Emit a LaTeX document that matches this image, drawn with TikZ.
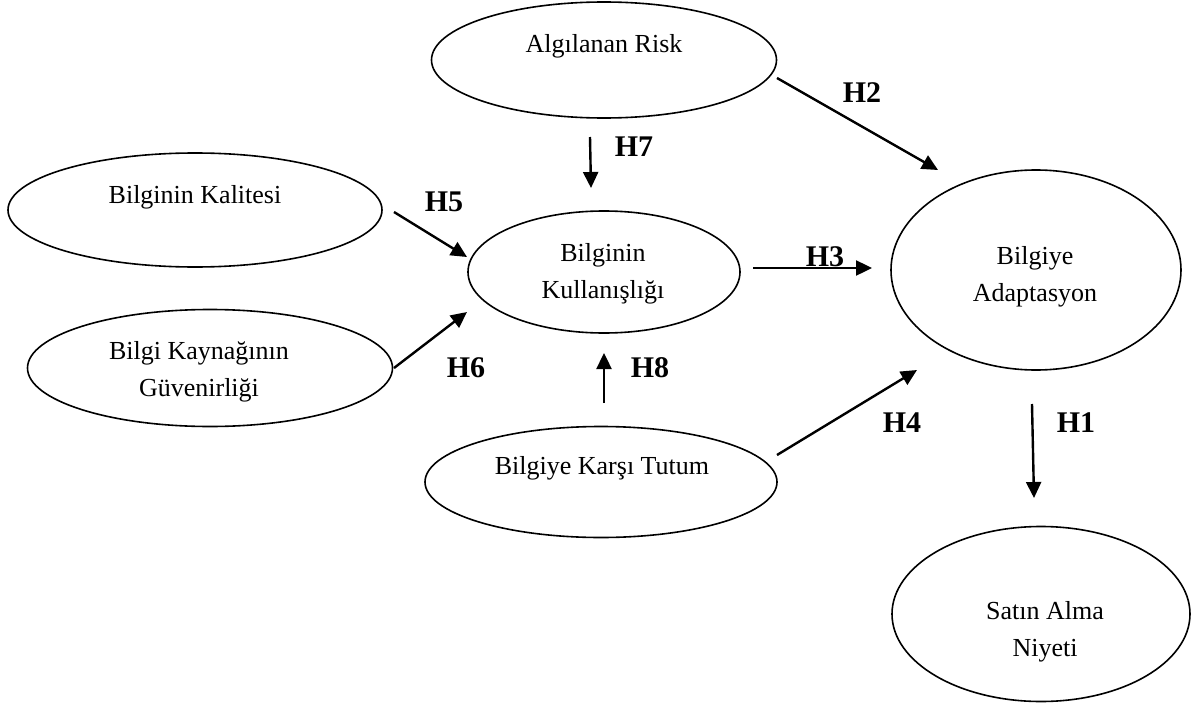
\documentclass[tikz,border=0pt]{standalone}
\usepackage{fontspec}
\setmainfont{Liberation Serif}
\usetikzlibrary{arrows.meta,shapes.geometric}

\begin{document}
\begin{tikzpicture}[x=1pt,y=-1pt,
  yapi/.style={draw,ellipse,line width=1.6pt,inner sep=0pt},
  metin/.style={font=\fontsize{26}{37}\selectfont,align=center},
  hip/.style={font=\fontsize{30}{34}\selectfont\bfseries},
  yol/.style={line width=2.4pt,-{Triangle[length=16pt,width=15pt]}}]
  \useasboundingbox (0,0) rectangle (1197,709);
  % yapilar
  \node[yapi,minimum width=345pt,minimum height=116pt] (risk) at (604,60) {};
  \node[yapi,minimum width=374pt,minimum height=114pt] (kalite) at (195,210) {};
  \node[yapi,minimum width=365pt,minimum height=117pt] (kaynak) at (210,368) {};
  \node[yapi,minimum width=272pt,minimum height=122pt] (kullan) at (604,272) {};
  \node[yapi,minimum width=352pt,minimum height=111pt] (tutum) at (601,482) {};
  \node[yapi,minimum width=290pt,minimum height=200pt] (adapt) at (1036,270) {};
  \node[yapi,minimum width=298pt,minimum height=175pt] (satin) at (1041,614) {};
  % metinler
  \node[metin] (risk-t) at (604,46) {Algılanan Risk};
  \node[metin] (kalite-t) at (195,197) {Bilginin Kalitesi};
  \node[metin] (kaynak-t) at (199,372) {Bilgi Kaynağının\\Güvenirliği};
  \node[metin] (kullan-t) at (603,274) {Bilginin\\Kullanışlığı};
  \node[metin] (tutum-t) at (602,468) {Bilgiye Karşı Tutum};
  \node[metin] (adapt-t) at (1035,277) {Bilgiye\\Adaptasyon};
  \node[metin] (satin-t) at (1045,632) {Satın Alma\\Niyeti};
  % okların uçları
  \coordinate (h1a) at (1032,404); \coordinate (h1b) at (1034,498);
  \coordinate (h2a) at (777,78);   \coordinate (h2b) at (938,170);
  \coordinate (h3a) at (753,268);  \coordinate (h3b) at (872,268);
  \coordinate (h4a) at (777,455);  \coordinate (h4b) at (917,370);
  \coordinate (h5a) at (394,212);  \coordinate (h5b) at (467,257);
  \coordinate (h6a) at (394,368);  \coordinate (h6b) at (467,312);
  \coordinate (h7a) at (590,137);  \coordinate (h7b) at (591,188);
  \coordinate (h8a) at (604,403);  \coordinate (h8b) at (604,353);
  \foreach \i in {1,...,8}
    \draw[yol] (h\i a) -- (h\i b);
  % hipotezler
  \node[hip] (H1) at (1076,423) {H1};
  \node[hip] (H2) at (862,93) {H2};
  \node[hip] (H3) at (825,257) {H3};
  \node[hip] (H4) at (902,423) {H4};
  \node[hip] (H5) at (444,202) {H5};
  \node[hip] (H6) at (466,368) {H6};
  \node[hip] (H7) at (634,147) {H7};
  \node[hip] (H8) at (650,368) {H8};
\end{tikzpicture}
\end{document}
